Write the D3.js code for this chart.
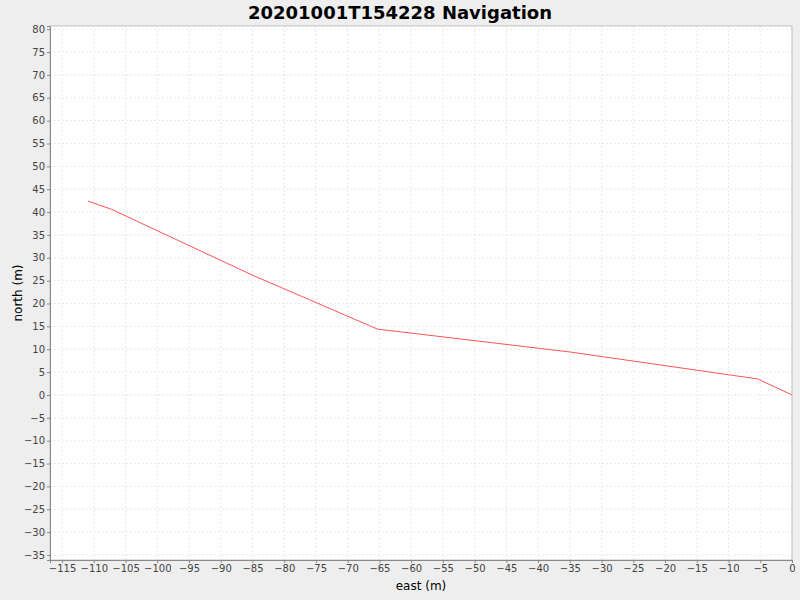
<!DOCTYPE html>
<html><head><meta charset="utf-8">
<script src="https://cdn.jsdelivr.net/npm/d3@7"></script>
<style>body{margin:0;background:#eeeeee;font-family:"DejaVu Sans",sans-serif}</style>
</head><body>
<svg id="chart" width="800" height="600"></svg>
<script>
// track points
const eastValues = [-110.9, -107.2, -85.0, -65.3, -35.0, -5.4, 0];
const northValues = [42.4, 40.6, 26.2, 14.4, 9.4, 3.5, 0];
const xTicks = d3.range(-115, 1, 5);
const yTicks = d3.range(-35, 81, 5);

const svg = d3.select('#chart');
const plotLeft = 50, plotRight = 792, plotTop = 26, plotBottom = 560;

const x = d3.scaleLinear().domain([-116.9, 0]).range([plotLeft, plotRight]);
const y = d3.scaleLinear().domain([-36.1, 80.7]).range([plotBottom, plotTop]);

svg.append('rect').attr('x', plotLeft).attr('y', plotTop)
  .attr('width', plotRight - plotLeft).attr('height', plotBottom - plotTop).attr('fill', '#fff');

// grid
svg.append('g').selectAll('line').data(xTicks).join('line')
  .attr('x1', d => x(d)).attr('x2', d => x(d)).attr('y1', plotTop).attr('y2', plotBottom)
  .attr('stroke', '#dcdcdc').attr('stroke-width', 0.6).attr('stroke-dasharray', '2,2');
svg.append('g').selectAll('line').data(yTicks).join('line')
  .attr('y1', d => y(d)).attr('y2', d => y(d)).attr('x1', plotLeft).attr('x2', plotRight)
  .attr('stroke', '#dcdcdc').attr('stroke-width', 0.6).attr('stroke-dasharray', '2,2');

svg.append('rect').attr('x', plotLeft).attr('y', plotTop)
  .attr('width', plotRight - plotLeft).attr('height', plotBottom - plotTop)
  .attr('fill', 'none').attr('stroke', '#b4b4b4').attr('stroke-width', 0.8);

const xAxis = svg.append('g').attr('transform', `translate(0,${plotBottom})`)
  .call(d3.axisBottom(x).tickValues(xTicks).tickSize(3).tickPadding(2));
const yAxis = svg.append('g').attr('transform', `translate(${plotLeft},0)`)
  .call(d3.axisLeft(y).tickValues(yTicks).tickSize(3).tickPadding(2));
[xAxis, yAxis].forEach(a => {
  a.select('.domain').attr('stroke', '#888');
  a.selectAll('.tick line').attr('stroke', '#888');
  a.selectAll('text').attr('font-size', 10).attr('fill', '#444')
    .attr('font-family', '"DejaVu Sans",sans-serif');
});

const line = d3.line().x(d => x(d[0])).y(d => y(d[1]));
svg.append('path').datum(eastValues.map((e, i) => [e, northValues[i]]))
  .attr('d', line).attr('fill', 'none').attr('stroke', '#ff5555').attr('stroke-width', 1);

svg.append('text').attr('x', 400).attr('y', 19).attr('text-anchor', 'middle')
  .attr('font-size', 18).attr('font-weight', 'bold').text('20201001T154228 Navigation');
svg.append('text').attr('x', (plotLeft + plotRight) / 2).attr('y', 590).attr('text-anchor', 'middle')
  .attr('font-size', 12).text('east (m)');
svg.append('text').attr('transform', `translate(22,${(plotTop + plotBottom) / 2}) rotate(-90)`)
  .attr('text-anchor', 'middle').attr('font-size', 12).text('north (m)');
</script>
</body></html>
